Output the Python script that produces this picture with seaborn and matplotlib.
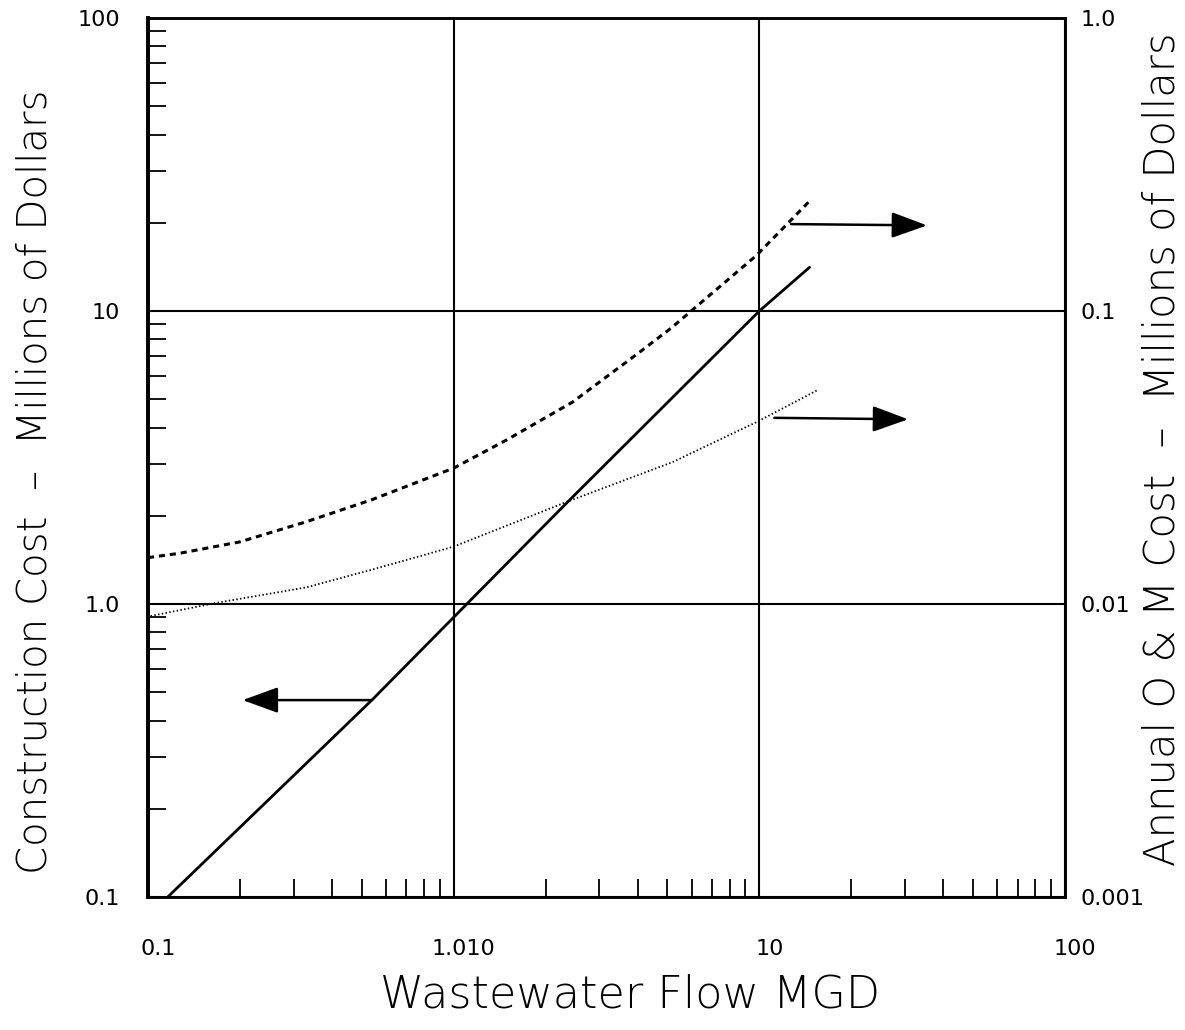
import matplotlib
matplotlib.use("Agg")
import matplotlib.pyplot as plt
import seaborn as sns
from matplotlib.ticker import FixedLocator, FixedFormatter, NullFormatter
import matplotlib.transforms as mtransforms

# Construction cost (left axis, millions of dollars)
flow_construction = [0.116, 0.54, 2.36, 10.0, 14.6]
construction_cost = [0.1, 0.47, 2.23, 10.0, 14.1]

# Annual O & M cost, upper curve (right axis, millions of dollars)
flow_om_upper = [0.10, 0.127, 0.20, 0.33, 0.54, 1.0, 1.49, 2.45, 4.06, 5.15, 9.8, 14.7]
om_cost_upper = [0.0144, 0.0149, 0.0163, 0.0191, 0.0227, 0.0291, 0.0363, 0.0489,
                 0.0724, 0.0875, 0.155, 0.239]

# Annual O & M cost, lower curve (right axis, millions of dollars)
flow_om_lower = [0.102, 0.168, 0.33, 0.54, 1.0, 2.34, 5.2, 9.8, 15.5]
om_cost_lower = [0.0091, 0.0101, 0.0114, 0.0131, 0.0157, 0.0223, 0.0305, 0.0418, 0.0537]

# Axis ticks and labels
x_ticks = [0.1, 1, 10, 100]
x_tick_labels = ["0.1", "1.010", "10", "100"]
left_ticks = [0.1, 1, 10, 100]
left_tick_labels = ["0.1", "1.0", "10", "100"]
right_ticks = [0.001, 0.01, 0.1, 1.0]
right_tick_labels = ["0.001", "0.01", "0.1", "1.0"]

sns.set_theme(style="white")
plt.rcParams["font.family"] = ["DejaVu Sans"]

fig = plt.figure(figsize=(11.85, 10.30), dpi=100)
ax = fig.add_axes([0.1249, 0.1291, 0.7738, 0.8534])
ax.set_xscale("log")
ax.set_yscale("log")
ax.set_xlim(0.1, 100)
ax.set_ylim(0.1, 100)

ax2 = ax.twinx()
ax2.set_yscale("log")
ax2.set_ylim(0.001, 1.0)

# Curves
sns.lineplot(x=flow_construction, y=construction_cost, ax=ax, color="black",
             linewidth=2.0, linestyle="-")
sns.lineplot(x=flow_om_upper, y=om_cost_upper, ax=ax2, color="black",
             linewidth=2.2, linestyle=(0, (2.0, 1.6)))
sns.lineplot(x=flow_om_lower, y=om_cost_lower, ax=ax2, color="black",
             linewidth=1.3, linestyle=(0, (0.8, 1.3)))

# Grid at the decade lines
ax.set_xticks(x_ticks)
ax.set_yticks(left_ticks)
ax.grid(True, which="major", color="black", linewidth=1.5)
ax2.grid(False)

# Minor ticks inside on left and bottom
minor_x = [m * d for d in (0.1, 1, 10) for m in range(2, 10)]
minor_y = [m * d for d in (0.1, 1, 10) for m in range(2, 10)]
ax.xaxis.set_minor_locator(FixedLocator(minor_x))
ax.yaxis.set_minor_locator(FixedLocator(minor_y))
ax.xaxis.set_minor_formatter(NullFormatter())
ax.yaxis.set_minor_formatter(NullFormatter())
ax.xaxis.set_major_formatter(FixedFormatter(x_tick_labels))
ax.yaxis.set_major_formatter(FixedFormatter(left_tick_labels))
ax.tick_params(axis="both", which="minor", direction="in", length=13, width=1.3,
               color="black", bottom=True, left=True, top=False, right=False)
ax.tick_params(axis="x", which="major", length=0, pad=30, labelsize=16, colors="black")
ax.tick_params(axis="y", which="major", length=0, pad=20, labelsize=16, colors="black")
for lbl in ax.get_xticklabels():
    lbl.set_transform(lbl.get_transform() +
                      mtransforms.ScaledTranslation(10 / 100, 0, fig.dpi_scale_trans))

ax2.set_yticks(right_ticks)
ax2.yaxis.set_major_formatter(FixedFormatter(right_tick_labels))
ax2.yaxis.set_minor_locator(FixedLocator([]))
ax2.tick_params(axis="y", which="major", length=0, pad=11, labelsize=16, colors="black")

for spine in ax.spines.values():
    spine.set_color("black")
    spine.set_linewidth(1.8)
ax.spines["left"].set_linewidth(2.6)
for spine in ax2.spines.values():
    spine.set_color("black")
    spine.set_linewidth(1.8)
ax2.spines["left"].set_linewidth(2.6)

# Axis titles
ax.set_xlabel("Wastewater Flow MGD", fontsize=32, color="black", fontweight="light")
ax.set_ylabel("Construction Cost  –  Millions of Dollars", fontsize=29,
              color="black", fontweight="light")
ax2.set_ylabel("Annual O & M Cost  –  Millions of Dollars", fontsize=30,
               color="black", fontweight="light")
ax.xaxis.label.set_va("center")
ax.yaxis.label.set_va("center")
ax2.yaxis.label.set_va("center")
ax.xaxis.set_label_coords(0.526, -0.112)
ax.yaxis.set_label_coords(-0.123, 0.472)
ax2.yaxis.set_label_coords(1.106, 0.509)

# Arrows pointing to the axis each curve is read from
arrow_kw = dict(arrowstyle="-|>,head_length=0.55,head_width=0.2",
                mutation_scale=40, color="black", lw=1.8, shrinkA=0, shrinkB=0)
ax.annotate("", xy=(0.204, 0.47), xytext=(0.54, 0.47), arrowprops=arrow_kw)
ax2.annotate("", xy=(35.4, 0.196), xytext=(12.7, 0.198), arrowprops=arrow_kw)
ax2.annotate("", xy=(30.7, 0.0427), xytext=(11.2, 0.0432), arrowprops=arrow_kw)

fig.savefig("out.png", dpi=100)
